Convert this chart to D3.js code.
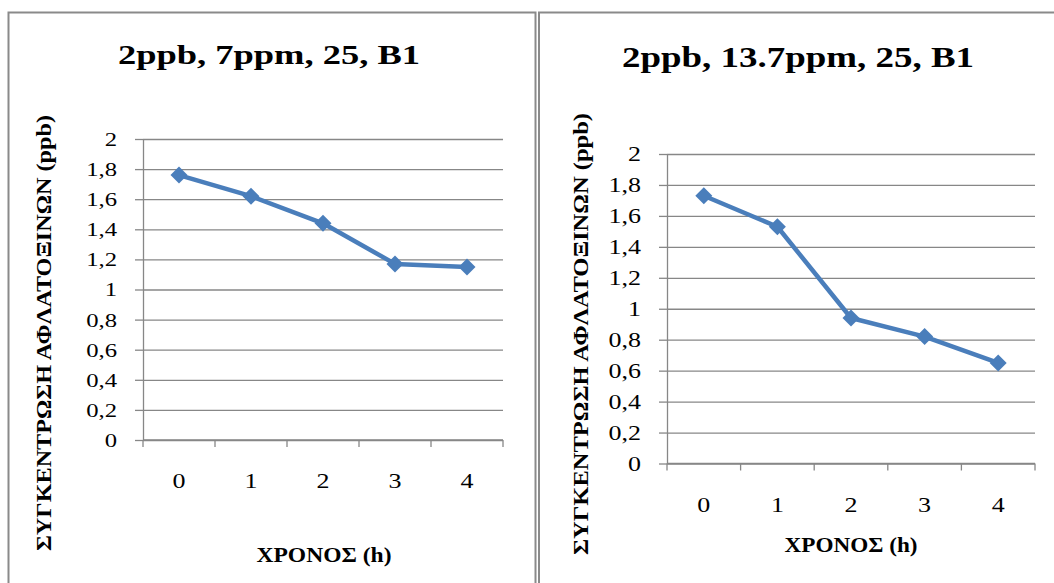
<!DOCTYPE html>
<html>
<head>
<meta charset="utf-8">
<script src="https://cdn.jsdelivr.net/npm/d3@7"></script>
<style>
  html, body { margin: 0; padding: 0; background: #fff; }
  svg { display: block; }
  text { font-family: "Liberation Serif", "Times New Roman", Times, serif; fill: #000; }
</style>
</head>
<body>
<div id="chart"></div>
<script>
// Data
const hours = ['0', '1', '2', '3', '4'];
const yTicks = [0, 0.2, 0.4, 0.6, 0.8, 1, 1.2, 1.4, 1.6, 1.8, 2];
const series7ppm = [1.76, 1.62, 1.44, 1.17, 1.15];
const series137ppm = [1.73, 1.53, 0.94, 0.82, 0.65];
const titles = ['2ppb, 7ppm, 25, B1', '2ppb, 13.7ppm, 25, B1'];
const yTitle = 'ΣΥΓΚΕΝΤΡΩΣΗ ΑΦΛΑΤΟΞΙΝΩΝ (ppb)';
const xTitle = 'ΧΡΟΝΟΣ (h)';

// Layout of each panel (screen geometry only)
const panels = [
  {
    frame: [8.5, 12.5, 527, 620],
    plot: { left: 143, right: 503, top: 139, bottom: 440 },
    title: { x: 269, y: 64, len: 302, size: 28 },
    yTitle: { x: 51, y: 333, len: 436, size: 20 },
    xTitle: { x: 324, y: 562, len: 135, size: 22 },
    xLabelY: 488,
    tickFont: 19
  },
  {
    frame: [539, 12.5, 540, 620],
    plot: { left: 667, right: 1035, top: 154, bottom: 463.5 },
    title: { x: 798, y: 67, len: 352, size: 29 },
    yTitle: { x: 588, y: 334, len: 442, size: 21 },
    xTitle: { x: 851, y: 552, len: 133, size: 22 },
    xLabelY: 512,
    tickFont: 20
  }
];

const W = 1054, H = 583;
const serif = '"Liberation Serif", "Times New Roman", Times, serif';
const stretch = 1.3;   // the source text is drawn wider than normal
const gridColor = '#878787';
const lineColor = '#4A7EBB';
const fmt = d => String(d).replace('.', ',');

const svg = d3.select('#chart').append('svg')
  .attr('width', W)
  .attr('height', H);

function drawPanel(p, values, title) {
  const g = svg.append('g');

  // chart frame
  g.append('rect')
    .attr('x', p.frame[0]).attr('y', p.frame[1])
    .attr('width', p.frame[2]).attr('height', p.frame[3])
    .attr('fill', '#fff')
    .attr('stroke', '#8a8a8a')
    .attr('stroke-width', 2);

  const x = d3.scaleBand().domain(hours).range([p.plot.left, p.plot.right]);
  const y = d3.scaleLinear().domain([0, 2]).range([p.plot.bottom, p.plot.top]);

  // horizontal gridlines
  g.append('g')
    .attr('transform', `translate(${p.plot.left},0)`)
    .call(d3.axisLeft(y).tickValues(yTicks).tickSize(-(p.plot.right - p.plot.left)).tickFormat(''))
    .call(a => a.select('.domain').remove())
    .call(a => a.selectAll('.tick line').attr('stroke', gridColor).attr('stroke-width', 1.3));

  // y axis with ticks and labels
  g.append('g')
    .attr('transform', `translate(${p.plot.left},0)`)
    .call(d3.axisLeft(y).tickValues(yTicks).tickSize(8).tickSizeOuter(0).tickFormat(fmt))
    .call(a => a.attr('font-family', serif))
    .call(a => a.select('.domain').attr('stroke', gridColor).attr('stroke-width', 1.3))
    .call(a => a.selectAll('.tick line').attr('stroke', gridColor).attr('stroke-width', 1.3))
    .call(a => a.selectAll('.tick text')
      .attr('x', -26 / stretch)
      .attr('dy', '0.34em')
      .attr('transform', `scale(${stretch},1)`)
      .style('font-size', p.tickFont + 'px')
      .style('font-family', serif)
      .attr('fill', '#000'));

  // x axis line
  g.append('line')
    .attr('x1', p.plot.left).attr('x2', p.plot.right)
    .attr('y1', y(0)).attr('y2', y(0))
    .attr('stroke', gridColor).attr('stroke-width', 1.3);

  // x tick marks at category boundaries
  const bounds = hours.map(h => x(h)).concat([x.range()[1]]);
  g.append('g').selectAll('line')
    .data(bounds)
    .join('line')
    .attr('x1', d => d).attr('x2', d => d)
    .attr('y1', y(0)).attr('y2', y(0) + 7)
    .attr('stroke', gridColor).attr('stroke-width', 1.3);

  // x labels
  g.append('g').selectAll('text')
    .data(hours)
    .join('text')
    .attr('transform', d => `translate(${x(d) + x.bandwidth() / 2},${p.xLabelY}) scale(${stretch},1)`)
    .attr('text-anchor', 'middle')
    .style('font-family', serif)
    .style('font-size', '20px')
    .text(d => d);

  // series line
  const line = d3.line()
    .x((d, i) => x(hours[i]) + x.bandwidth() / 2)
    .y(d => y(d));

  g.append('path')
    .datum(values)
    .attr('d', line)
    .attr('fill', 'none')
    .attr('stroke', lineColor)
    .attr('stroke-width', 4.5)
    .attr('stroke-linejoin', 'round');

  // diamond markers
  g.append('g').selectAll('path')
    .data(values)
    .join('path')
    .attr('transform', (d, i) => `translate(${x(hours[i]) + x.bandwidth() / 2},${y(d)})`)
    .attr('d', 'M0,-8.5L8.5,0L0,8.5L-8.5,0Z')
    .attr('fill', lineColor);

  // chart title
  g.append('text')
    .attr('x', p.title.x).attr('y', p.title.y)
    .attr('text-anchor', 'middle')
    .attr('textLength', p.title.len)
    .attr('lengthAdjust', 'spacingAndGlyphs')
    .style('font-family', serif)
    .style('font-size', p.title.size + 'px')
    .style('font-weight', 'bold')
    .text(title);

  // y axis title
  g.append('text')
    .attr('transform', `translate(${p.yTitle.x},${p.yTitle.y}) rotate(-90)`)
    .attr('text-anchor', 'middle')
    .attr('textLength', p.yTitle.len)
    .attr('lengthAdjust', 'spacingAndGlyphs')
    .style('font-family', serif)
    .style('font-size', p.yTitle.size + 'px')
    .style('font-weight', 'bold')
    .text(yTitle);

  // x axis title
  g.append('text')
    .attr('x', p.xTitle.x).attr('y', p.xTitle.y)
    .attr('text-anchor', 'middle')
    .attr('textLength', p.xTitle.len)
    .attr('lengthAdjust', 'spacingAndGlyphs')
    .style('font-family', serif)
    .style('font-size', p.xTitle.size + 'px')
    .style('font-weight', 'bold')
    .text(xTitle);
}

drawPanel(panels[0], series7ppm, titles[0]);
drawPanel(panels[1], series137ppm, titles[1]);
</script>
</body>
</html>
